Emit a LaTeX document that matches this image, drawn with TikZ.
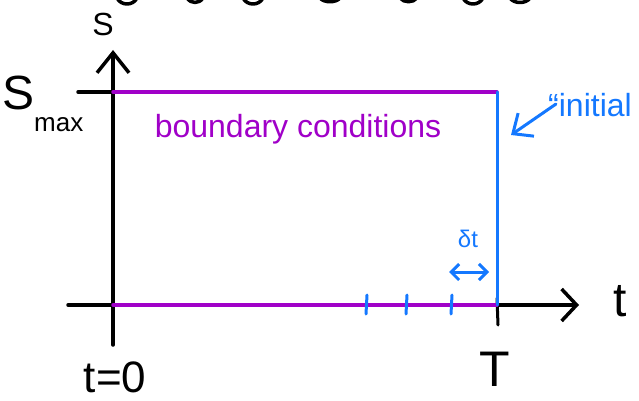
\documentclass[tikz,border=0pt]{standalone}
\usepackage{fontspec}
\setmainfont{Liberation Sans}
\usetikzlibrary{arrows.meta}
\definecolor{bcpurple}{RGB}{160,0,200}
\definecolor{icblue}{RGB}{20,120,255}
\begin{document}
\begin{tikzpicture}[x=1pt,y=-1pt, line cap=round, line join=round,
  axis/.style={black, line width=3.5pt},
  bc/.style={bcpurple, line width=3.5pt},
  ic/.style={icblue, line width=3pt},
  frag/.style={black, line width=3.5pt},
  lbl/.style={inner sep=0pt}]
\useasboundingbox (0,0) rectangle (639,401);
\clip (0,0) rectangle (639,401);

% cut-off fragments at the top edge
\foreach \a/\b/\h in {117/137/6, 187/203/4, 243/263/6, 320/340/3, 400/417/3, 463/483/6, 510/530/4}{
  \draw[frag] (\a,-2) .. controls (\a+4,\h) and (\b-4,\h) .. (\b,-2);
}

% coordinates
\coordinate (ybot) at (113,345);
\coordinate (ytop) at (113,50);
\coordinate (xleft) at (68,305);
\coordinate (xright) at (579,305);
\coordinate (O) at (113,305);
\coordinate (SM) at (113,92);
\coordinate (SMtick) at (78,92);
\coordinate (TR) at (497,92);
\coordinate (T) at (497,305);
\coordinate (Tt1) at (497,298);
\coordinate (Tt2) at (498,325);
\coordinate (dtL) at (449,272);
\coordinate (dtR) at (489,272);
\coordinate (icstart) at (556,104);
\coordinate (ictip) at (511,135);

% axes
\draw[axis, -{Straight Barb[length=20pt,width=32pt]}] (ybot) -- (ytop);
\draw[axis, -{Straight Barb[length=15pt,width=32pt]}] (xleft) -- (xright);
\draw[axis] (SMtick) -- (SM);
\draw[axis, line width=3pt] (Tt1) -- (Tt2);

% domain
\draw[bc] (SM) -- (TR);
\draw[bc] (O) -- (T);
\draw[ic] (TR) -- (T);

% time steps
\foreach \x/\n in {367/a, 407/b, 452/c}{
  \coordinate (tk\n1) at (\x,295);
  \coordinate (tk\n2) at (\x-1,314);
  \draw[ic] (tk\n1) -- (tk\n2);
}
\draw[ic, {Straight Barb[length=8pt,width=16pt]}-{Straight Barb[length=8pt,width=16pt]}] (dtL) -- (dtR);
\draw[ic, -{Straight Barb[length=16pt,width=28pt]}] (icstart) -- (ictip);

% labels
\node[lbl, font=\fontsize{32}{32}\selectfont] (slab) at (103,24) {S};
\node[lbl, anchor=base west, font=\fontsize{48}{48}\selectfont] (smax) at (2,110)
  {S\raisebox{-22pt}{\fontsize{26}{26}\selectfont max}};
\node[lbl, anchor=base, text=bcpurple, font=\fontsize{32}{32}\selectfont] (bclab) at (298,137) {boundary conditions};
\node[lbl, anchor=base, font=\fontsize{44}{44}\selectfont] (t0) at (115,392) {t=0};
\node[lbl, font=\fontsize{50}{50}\selectfont] (Tlab) at (495,369) {T};
\node[lbl, font=\fontsize{48}{48}\selectfont] (tlab) at (620,301) {t};
\node[lbl, text=icblue, font=\fontsize{24}{24}\selectfont] (dtlab) at (468,239) {δt};
\node[lbl, anchor=base west, text=icblue, font=\fontsize{32}{32}\selectfont] (iclab) at (548,117) {“initial conditions”};
\end{tikzpicture}
\end{document}
